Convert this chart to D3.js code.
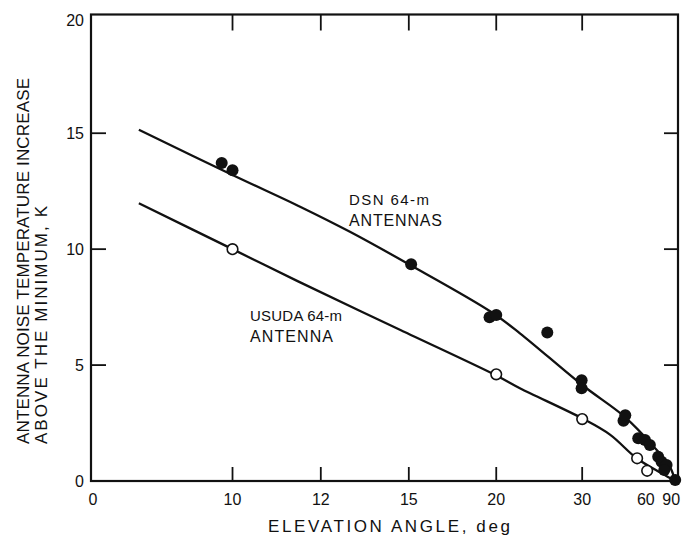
<!DOCTYPE html>
<html>
<head>
<meta charset="utf-8">
<script src="https://cdn.jsdelivr.net/npm/d3@7"></script>
<style>
  body { margin: 0; background: #fff; }
  text { font-family: "Liberation Sans", Arial, Helvetica, sans-serif; fill: #111; }
</style>
</head>
<body>
<div id="chart-area"></div>
<script>
// x tick labels (elevation angle, deg)
var xTicks = [0, 10, 12, 15, 20, 30, 60, 90];
var yTicks = [0, 5, 10, 15, 20];

// DSN 64-m antennas, measured points
var dsnAngle = [9.8, 10.0, 15.1, 19.5, 20.0, 24.9, 29.9, 29.9, 40.0, 40.6, 45.7, 49.0, 51.8, 57.7, 60.7, 66.2, 63.5, 90];
var dsnValue = [13.72, 13.4, 9.35, 7.06, 7.16, 6.41, 4.35, 4.0, 2.6, 2.84, 1.84, 1.77, 1.55, 1.05, 0.83, 0.69, 0.47, 0.04];

// USUDA 64-m antenna, measured points
var usudaAngle = [10, 20, 30, 45.2, 50.2];
var usudaValue = [10.0, 4.6, 2.67, 0.98, 0.44];

// fitted curves
var dsnCurveAngle = [8.5, 10, 11.5, 12.85, 15, 19.6, 22, 30, 40.4, 54.4, 70.9, 90];
var dsnCurveValue = [15.15, 13.2, 11.8, 10.75, 9.35, 7.3, 6.37, 4.14, 2.77, 1.48, 0.62, 0];
var usudaCurveAngle = [8.5, 10, 11.4, 14.65, 20, 22, 30, 36, 45, 60.7, 90];
var usudaCurveValue = [11.98, 10.0, 8.62, 6.51, 4.55, 4.0, 2.7, 2.0, 0.98, 0.33, 0];

// plot box (pixels)
var pLeft = 91, pRight = 678, pTop = 14.5, pBottom = 481;

var svg = d3.select("#chart-area")
	.append("svg")
		.attr("width", 685)
		.attr("height", 541);

// axis is linear in air mass (1/sin of elevation), 0 sits at the left edge
var amLeft = 7.28;
function airmass(a) { return a === 0 ? amLeft : 1 / Math.sin(a * Math.PI / 180); }

var xAm = d3.scaleLinear()
			.domain([amLeft, 0.97])
			.range([pLeft, pRight]);
var x = function(a) { return xAm(airmass(a)); };

var y = d3.scaleLinear()
			.domain([0, 20])
			.range([pBottom, 17.3]);

// frame
svg.append("rect")
	.attr("x", pLeft)
	.attr("y", pTop)
	.attr("width", pRight - pLeft)
	.attr("height", pBottom - pTop)
	.attr("fill", "none")
	.attr("stroke", "#111")
	.attr("stroke-width", 2.2);

// inward ticks on all four sides
var xTickMarks = [10, 12, 15, 20, 30];
xTickMarks.forEach(function(a){
	svg.append("line").attr("x1", x(a)).attr("x2", x(a))
		.attr("y1", pBottom).attr("y2", pBottom - 14)
		.attr("stroke", "#111").attr("stroke-width", 1.8);
	svg.append("line").attr("x1", x(a)).attr("x2", x(a))
		.attr("y1", pTop).attr("y2", pTop + 16)
		.attr("stroke", "#111").attr("stroke-width", 1.8);
});
[5, 10, 15].forEach(function(v){
	svg.append("line").attr("x1", pLeft).attr("x2", pLeft + 15)
		.attr("y1", y(v)).attr("y2", y(v))
		.attr("stroke", "#111").attr("stroke-width", 1.8);
	svg.append("line").attr("x1", pRight).attr("x2", pRight - 14)
		.attr("y1", y(v)).attr("y2", y(v))
		.attr("stroke", "#111").attr("stroke-width", 1.8);
});

// tick labels
var xLabelShift = {0: 2, 60: -15, 90: -4};
svg.selectAll(".xlab")
	.data(xTicks)
	.enter()
	.append("text")
		.attr("class", "xlab")
		.attr("x", function(d){ return x(d) + (xLabelShift[d] || 0); })
		.attr("y", 505)
		.attr("font-size", "16px")
		.attr("text-anchor", "middle")
		.text(function(d){ return d; });

svg.selectAll(".ylab")
	.data(yTicks)
	.enter()
	.append("text")
		.attr("class", "ylab")
		.attr("x", 84)
		.attr("y", function(d){ return y(d) + 6 + (d === 20 ? 2.5 : 0); })
		.attr("font-size", "16px")
		.attr("text-anchor", "end")
		.text(function(d){ return d; });

// axis titles
svg.append("text")
	.attr("x", 268)
	.attr("y", 532)
	.attr("font-size", "17px")
	.attr("textLength", 242)
	.attr("lengthAdjust", "spacing")
	.text("ELEVATION ANGLE, deg");

svg.append("text")
	.attr("transform", "translate(29, 444) rotate(-90)")
	.attr("font-size", "17px")
	.attr("textLength", 366)
	.attr("lengthAdjust", "spacing")
	.text("ANTENNA NOISE TEMPERATURE INCREASE");
svg.append("text")
	.attr("transform", "translate(47, 444) rotate(-90)")
	.attr("font-size", "17px")
	.attr("textLength", 238)
	.attr("lengthAdjust", "spacing")
	.text("ABOVE THE MINIMUM, K");

// curves
var line = d3.line()
	.x(function(d){ return x(d[0]); })
	.y(function(d){ return y(d[1]); })
	.curve(d3.curveCatmullRom);

svg.append("path")
	.datum(dsnCurveAngle.map(function(a, i){ return [a, dsnCurveValue[i]]; }))
	.attr("d", line)
	.attr("fill", "none")
	.attr("stroke", "#111")
	.attr("stroke-width", 2.3);

svg.append("path")
	.datum(usudaCurveAngle.map(function(a, i){ return [a, usudaCurveValue[i]]; }))
	.attr("d", line)
	.attr("fill", "none")
	.attr("stroke", "#111")
	.attr("stroke-width", 2.3);

// points
svg.selectAll(".dsn")
	.data(dsnAngle)
	.enter()
	.append("circle")
		.attr("class", "dsn")
		.attr("cx", function(d){ return x(d); })
		.attr("cy", function(d, i){ return y(dsnValue[i]); })
		.attr("r", 6)
		.attr("fill", "#111");

svg.selectAll(".usuda")
	.data(usudaAngle)
	.enter()
	.append("circle")
		.attr("class", "usuda")
		.attr("cx", function(d){ return x(d); })
		.attr("cy", function(d, i){ return y(usudaValue[i]); })
		.attr("r", 5.3)
		.attr("fill", "#fff")
		.attr("stroke", "#111")
		.attr("stroke-width", 1.6);

// curve labels
svg.append("text").attr("x", 349).attr("y", 205).attr("font-size", "15px")
	.attr("textLength", 80).attr("lengthAdjust", "spacing").text("DSN 64-m");
svg.append("text").attr("x", 349).attr("y", 226).attr("font-size", "16px")
	.attr("textLength", 93).attr("lengthAdjust", "spacing").text("ANTENNAS");
svg.append("text").attr("x", 250).attr("y", 321).attr("font-size", "15px")
	.attr("textLength", 92).attr("lengthAdjust", "spacing").text("USUDA 64-m");
svg.append("text").attr("x", 250).attr("y", 342).attr("font-size", "16px")
	.attr("textLength", 83).attr("lengthAdjust", "spacing").text("ANTENNA");
</script>
</body>
</html>
